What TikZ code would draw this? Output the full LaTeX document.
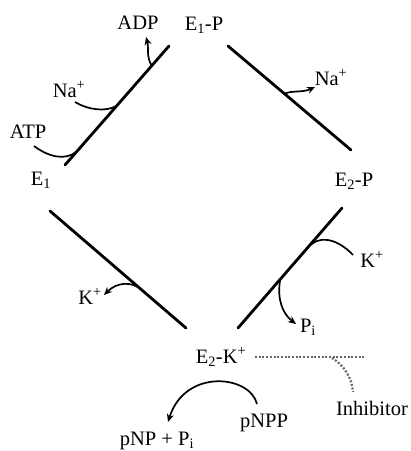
\documentclass[tikz,border=0pt]{standalone}
\usepackage{fontspec}
\setmainfont{Liberation Serif}
\usetikzlibrary{arrows.meta}
\begin{document}
\begin{tikzpicture}[x=1pt,y=-1pt,
  lbl/.style={inner sep=0pt,anchor=base,font=\fontsize{20.5}{22}\selectfont},
  stepline/.style={line width=2.8pt,line cap=round},
  flow/.style={line width=1.7pt},
  flowarr/.style={line width=1.7pt,-{Stealth[length=8pt,width=7pt]}},
  inhib/.style={line width=2.2pt,black!60,dash pattern=on 2pt off 1.7pt}]
\useasboundingbox (0,0) rectangle (411,451);
% labels
\node[lbl] (adp)  at (138,29) {ADP};
\node[lbl] (e1p)  at (204,30) {E\textsubscript{1}-P};
\node[lbl] (na1)  at (69,97) {Na\textsuperscript{+}};
\node[lbl] (atp)  at (28,138) {ATP};
\node[lbl] (e1)   at (41,185) {E\textsubscript{1}};
\node[lbl] (na2)  at (331,85) {Na\textsuperscript{+}};
\node[lbl] (e2p)  at (354,186) {E\textsubscript{2}-P};
\node[lbl] (k2)   at (372,267) {K\textsuperscript{+}};
\node[lbl] (pi)   at (308,332) {P\textsubscript{i}};
\node[lbl] (k1)   at (90,304) {K\textsuperscript{+}};
\node[lbl] (e2k)  at (221,363) {E\textsubscript{2}-K\textsuperscript{+}};
\node[lbl] (pnpp) at (264,427) {pNPP};
\node[lbl] (pnp)  at (157,445) {pNP + P\textsubscript{i}};
\node[lbl] (inh)  at (372,415) {Inhibitor};
% step lines
\coordinate (a1) at (65,165);  \coordinate (a2) at (169,46);
\coordinate (b1) at (228,46);  \coordinate (b2) at (351,150);
\coordinate (c1) at (50,211);  \coordinate (c2) at (186,328);
\coordinate (d1) at (342,208); \coordinate (d2) at (238,328);
\draw[stepline] (a1) -- (a2);
\draw[stepline] (b1) -- (b2);
\draw[stepline] (c1) -- (c2);
\draw[stepline] (d1) -- (d2);
% curve end points
\coordinate (atpS) at (34,146);  \coordinate (atpJ) at (76,152);
\coordinate (na1S) at (75,102);  \coordinate (na1J) at (116,106);
\coordinate (adpJ) at (152,66);  \coordinate (adpT) at (146,37);
\coordinate (na2J) at (284,94);  \coordinate (na2T) at (315,87);
\coordinate (k2S)  at (353,255); \coordinate (k2J)  at (312,244);
\coordinate (piJ)  at (280,281); \coordinate (piT)  at (296,324);
\coordinate (k1J)  at (142,290); \coordinate (k1T)  at (104,295);
\coordinate (pnS)  at (257,404); \coordinate (pnT)  at (168,422);
\coordinate (inA)  at (255,357); \coordinate (inB)  at (366,357);
\coordinate (inJ)  at (332,358); \coordinate (inE)  at (353,392);
% curves
\draw[flow] (atpS) .. controls (50,158) and (66,160) .. (atpJ);
\draw[flow] (na1S) .. controls (88,110) and (106,112) .. (na1J);
\draw[flowarr] (adpJ) .. controls (146,57) and (149,48) .. (adpT);
\draw[flowarr] (na2J) .. controls (292,90) and (302,93) .. (na2T);
\draw[flow] (k2S) .. controls (342,243) and (324,234) .. (k2J);
\draw[flowarr] (piJ) .. controls (277,300) and (283,314) .. (piT);
\draw[flowarr] (k1J) .. controls (132,281) and (117,282) .. (k1T);
\draw[flowarr] (pnS) .. controls (250,375) and (185,368) .. (pnT);
% inhibitor
\draw[inhib] (inA) -- (inB);
\draw[inhib] (inJ) .. controls (344,365) and (352,378) .. (inE);
\end{tikzpicture}
\end{document}
